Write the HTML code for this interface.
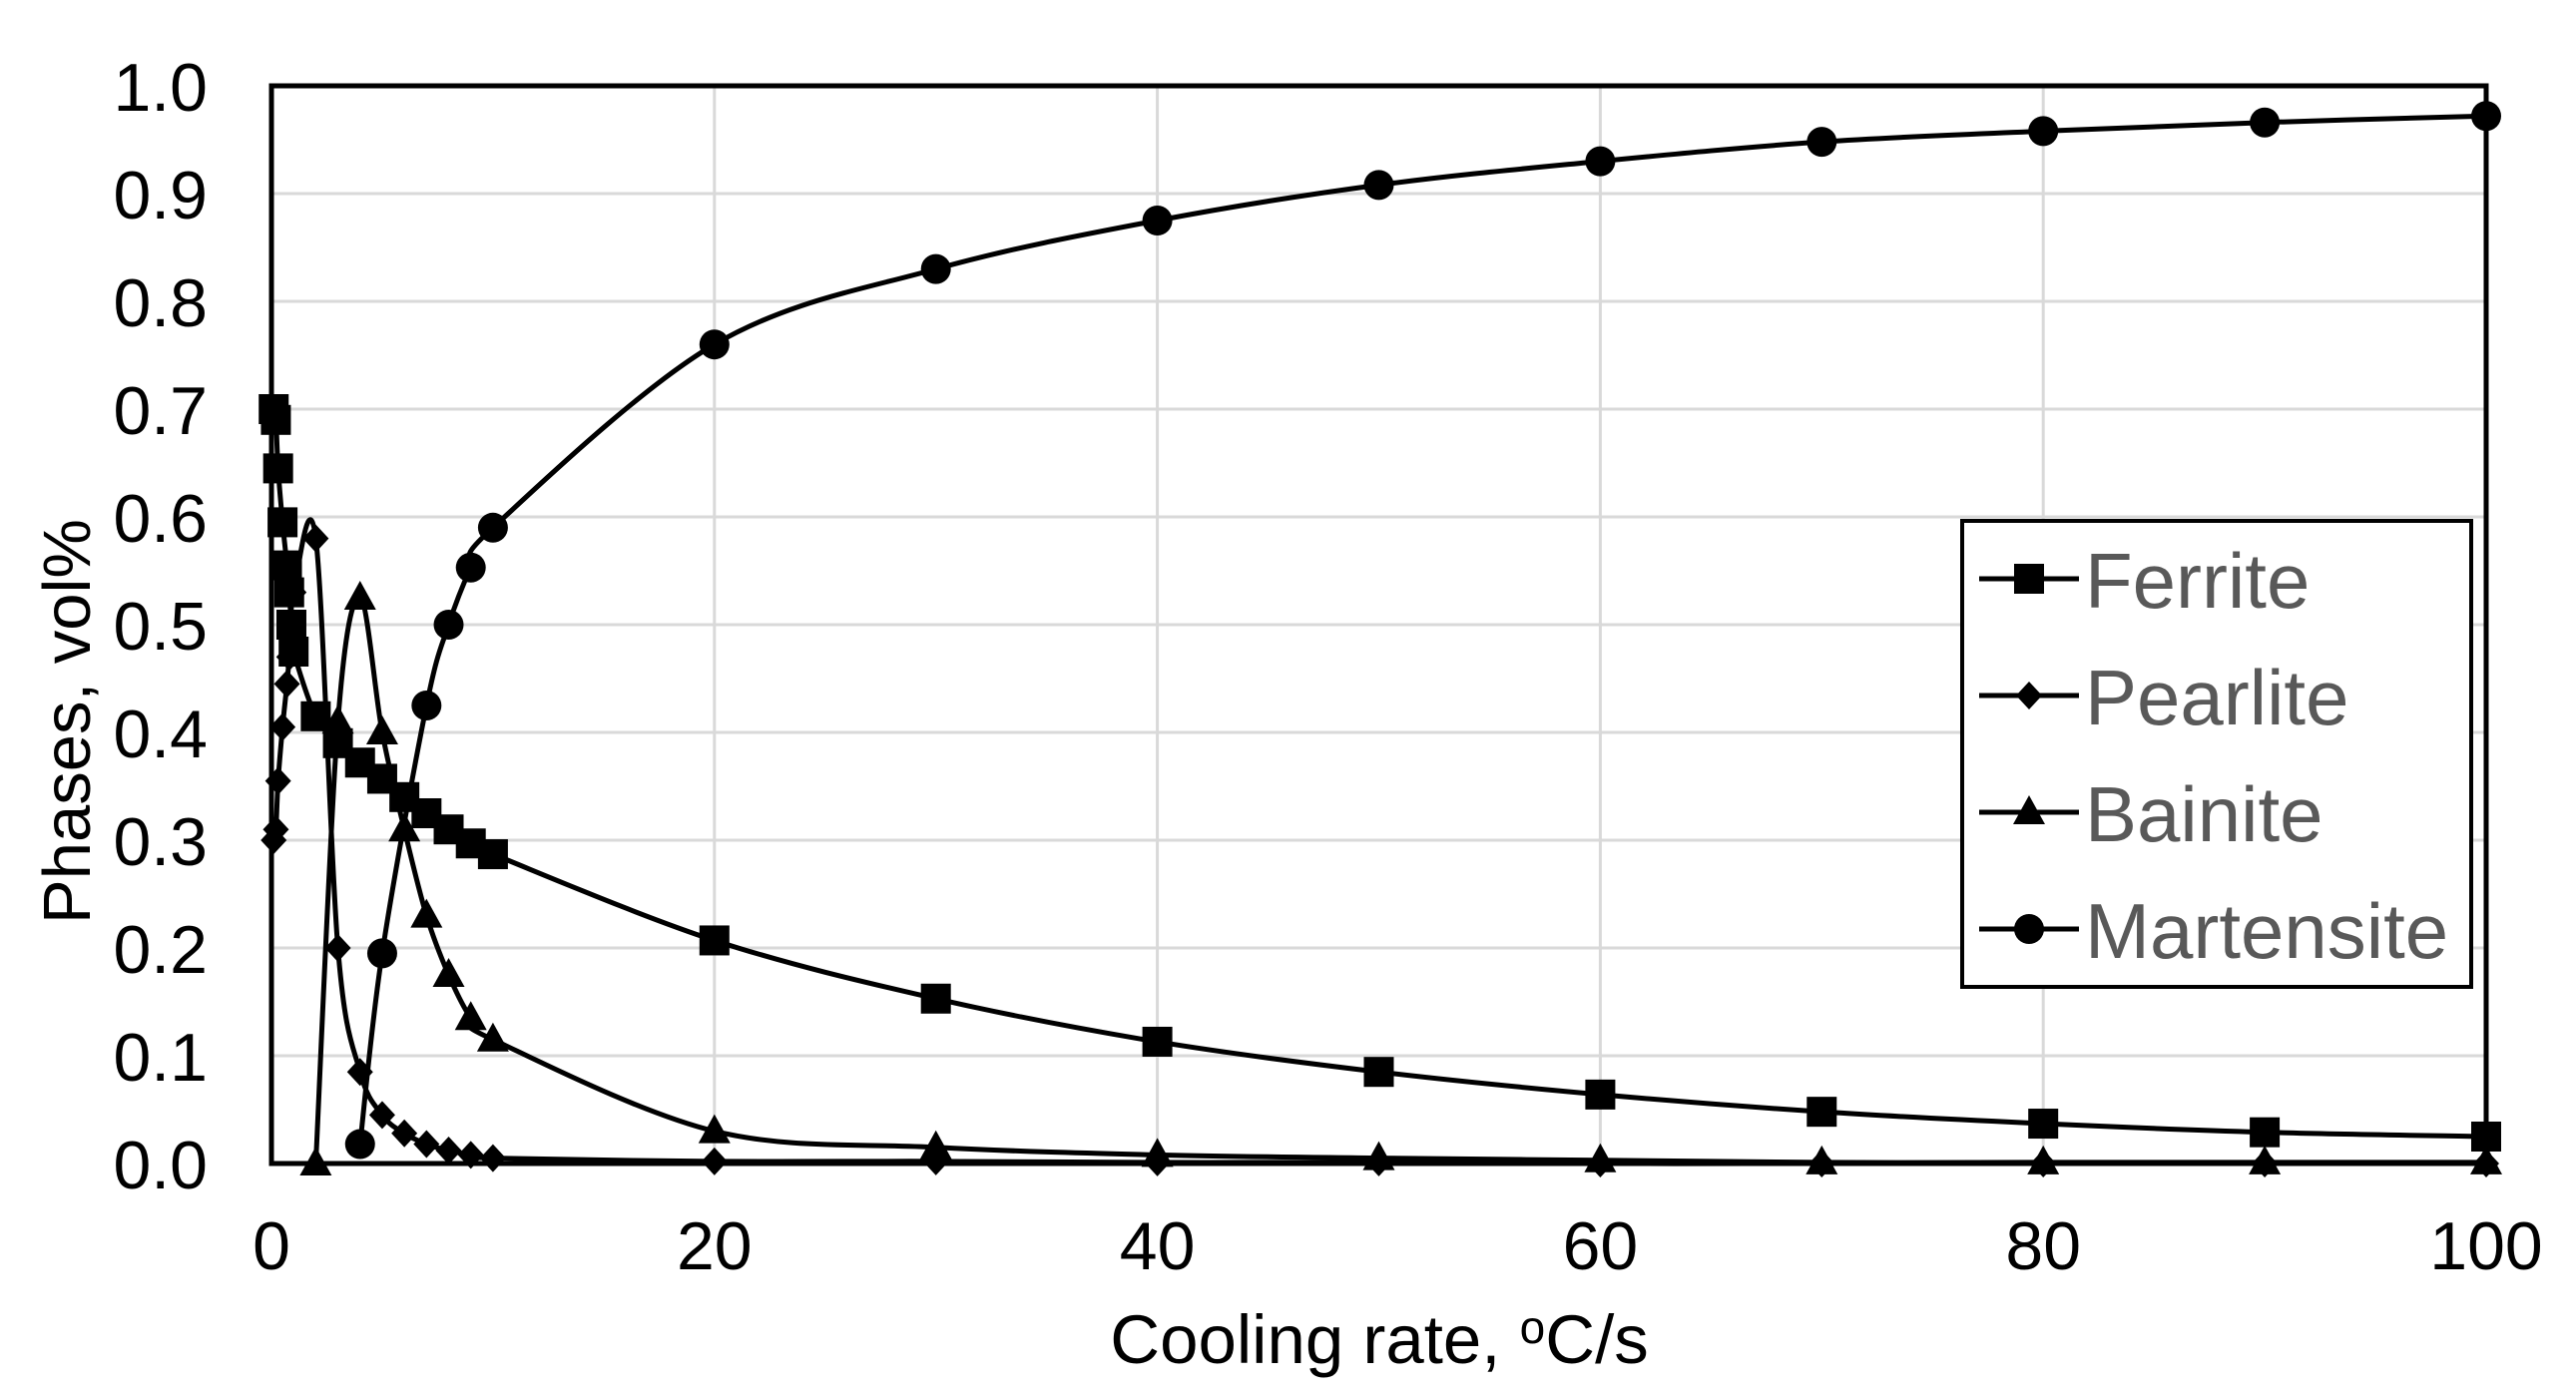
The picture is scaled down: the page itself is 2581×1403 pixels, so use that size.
<!DOCTYPE html>
<html><head><meta charset="utf-8"><style>
html,body{margin:0;padding:0;background:#fff;}
svg{display:block;font-family:"Liberation Sans",Arial,sans-serif;}
</style></head><body>
<svg id="chart" width="2581" height="1403" viewBox="0 0 2581 1403">
<rect width="2581" height="1403" fill="#fff"/>
<g id="grid"></g>
<g id="series"></g>
<rect x="272" y="86" width="2219" height="1080" fill="none" stroke="#000" stroke-width="5"/>
<g id="ticks"></g>
<text x="1382" y="1366" font-size="69" text-anchor="middle">Cooling rate, <tspan font-size="46" dy="-20">o</tspan><tspan dy="20">C/s</tspan></text>
<text transform="translate(90,723) rotate(-90)" font-size="67" text-anchor="middle">Phases, vol%</text>
<g id="legend">
<rect x="1966" y="522" width="510" height="467" fill="#fff" stroke="#000" stroke-width="4"/>
</g>
</svg>
<script>
const xTicks=[0,20,40,60,80,100];
const yTicks=[0,0.1,0.2,0.3,0.4,0.5,0.6,0.7,0.8,0.9,1.0];
const seriesNames=["Ferrite","Pearlite","Bainite","Martensite"];
const ferriteX=[0.1,0.2,0.3,0.5,0.7,0.8,0.9,1,2,3,4,5,6,7,8,9,10,20,30,40,50,60,70,80,90,100];
const ferriteY=[0.70,0.69,0.645,0.595,0.555,0.53,0.50,0.475,0.415,0.39,0.372,0.357,0.34,0.325,0.31,0.297,0.287,0.207,0.153,0.113,0.085,0.064,0.048,0.037,0.029,0.025];
const pearliteX=[0.1,0.2,0.3,0.5,0.7,0.8,0.9,1,2,3,4,5,6,7,8,9,10,20,30,40,50,60,70,80,90,100];
const pearliteY=[0.30,0.31,0.355,0.405,0.445,0.47,0.50,0.53,0.58,0.20,0.085,0.045,0.028,0.018,0.012,0.008,0.005,0.002,0.002,0.001,0.001,0,0,0,0,0];
const bainiteX=[2,3,4,5,6,7,8,9,10,20,30,40,50,60,70,80,90,100];
const bainiteY=[0.0,0.41,0.525,0.40,0.31,0.23,0.175,0.135,0.115,0.03,0.015,0.008,0.005,0.003,0.001,0.001,0.001,0.001];
const martensiteX=[4,5,7,8,9,10,20,30,40,50,60,70,80,90,100];
const martensiteY=[0.018,0.195,0.425,0.50,0.553,0.59,0.76,0.83,0.875,0.908,0.93,0.948,0.958,0.966,0.972];

const L=272,R=2491,T=86,B=1166;
const sx=v=>L+(R-L)*v/100;
const sy=v=>B-(B-T)*v;
const NS="http://www.w3.org/2000/svg";
function mk(tag,attrs,parent){const e=document.createElementNS(NS,tag);for(const k in attrs)e.setAttribute(k,attrs[k]);parent.appendChild(e);return e;}
const grid=document.getElementById('grid'),ticks=document.getElementById('ticks'),ser=document.getElementById('series'),leg=document.getElementById('legend');
yTicks.forEach(v=>{
  const g=mk('line',{x1:L,x2:R,y1:sy(v),y2:sy(v),stroke:'#d9d9d9','stroke-width':3},grid);
  
  
  const t=mk('text',{x:208,y:sy(v)+25,'font-size':68,'text-anchor':'end'},ticks);
  t.textContent=v.toFixed(1);
  
  
});
xTicks.forEach(v=>{
  const g=mk('line',{x1:sx(v),x2:sx(v),y1:T,y2:B,stroke:'#d9d9d9','stroke-width':3},grid);
  
  
  const t=mk('text',{x:sx(v),y:1272,'font-size':68,'text-anchor':'middle'},ticks);
  t.textContent=String(v);
  
  
});
function smooth(pts){
  let d=`M${pts[0][0]},${pts[0][1]}`;
  for(let i=0;i<pts.length-1;i++){
    const p0=pts[i-1]||pts[i],p1=pts[i],p2=pts[i+1],p3=pts[i+2]||p2;
    const c1=[p1[0]+(p2[0]-p0[0])/6,p1[1]+(p2[1]-p0[1])/6];
    const c2=[p2[0]-(p3[0]-p1[0])/6,p2[1]-(p3[1]-p1[1])/6];
    d+=` C${c1[0]},${c1[1]} ${c2[0]},${c2[1]} ${p2[0]},${p2[1]}`;
  }
  return d;
}
function marker(type,x,y,parent){
  let e;
  if(type==='square')e=mk('rect',{x:x-15,y:y-15,width:30,height:30,fill:'#000'},parent);
  else if(type==='diamond')e=mk('polygon',{points:`${x},${y-14} ${x+13},${y} ${x},${y+14} ${x-13},${y}`,fill:'#000'},parent);
  else if(type==='triangle')e=mk('polygon',{points:`${x},${y-17} ${x+16},${y+12} ${x-16},${y+12}`,fill:'#000'},parent);
  else e=mk('circle',{cx:x,cy:y,r:15,fill:'#000'},parent);
  return e;
}
const defs=[[ferriteX,ferriteY,'square','ferrite'],[pearliteX,pearliteY,'diamond','pearlite'],[bainiteX,bainiteY,'triangle','bainite'],[martensiteX,martensiteY,'circle','martensite']];
defs.forEach(([xs,ys,type,name])=>{
  const g=mk('g',{},ser);
  
  
  const pts=xs.map((x,i)=>[sx(x),sy(ys[i])]);
  const p=mk('path',{d:smooth(pts),fill:'none',stroke:'#000','stroke-width':5},g);
  
  
  pts.forEach(pt=>{
    const m=marker(type,pt[0],pt[1],g);
    
    
  });
});
const legTypes=['square','diamond','triangle','circle'];
seriesNames.forEach((n,i)=>{
  const y=580+i*117;
  const g=mk('g',{},leg);
  
  
  mk('line',{x1:1983,x2:2083,y1:y,y2:y,stroke:'#000','stroke-width':5},g);
  marker(legTypes[i],2033,y,g);
  const t=mk('text',{x:2089,y:y+29,'font-size':78,fill:'#595959'},g);
  t.textContent=n;
  
  
});
</script>
</body></html>
